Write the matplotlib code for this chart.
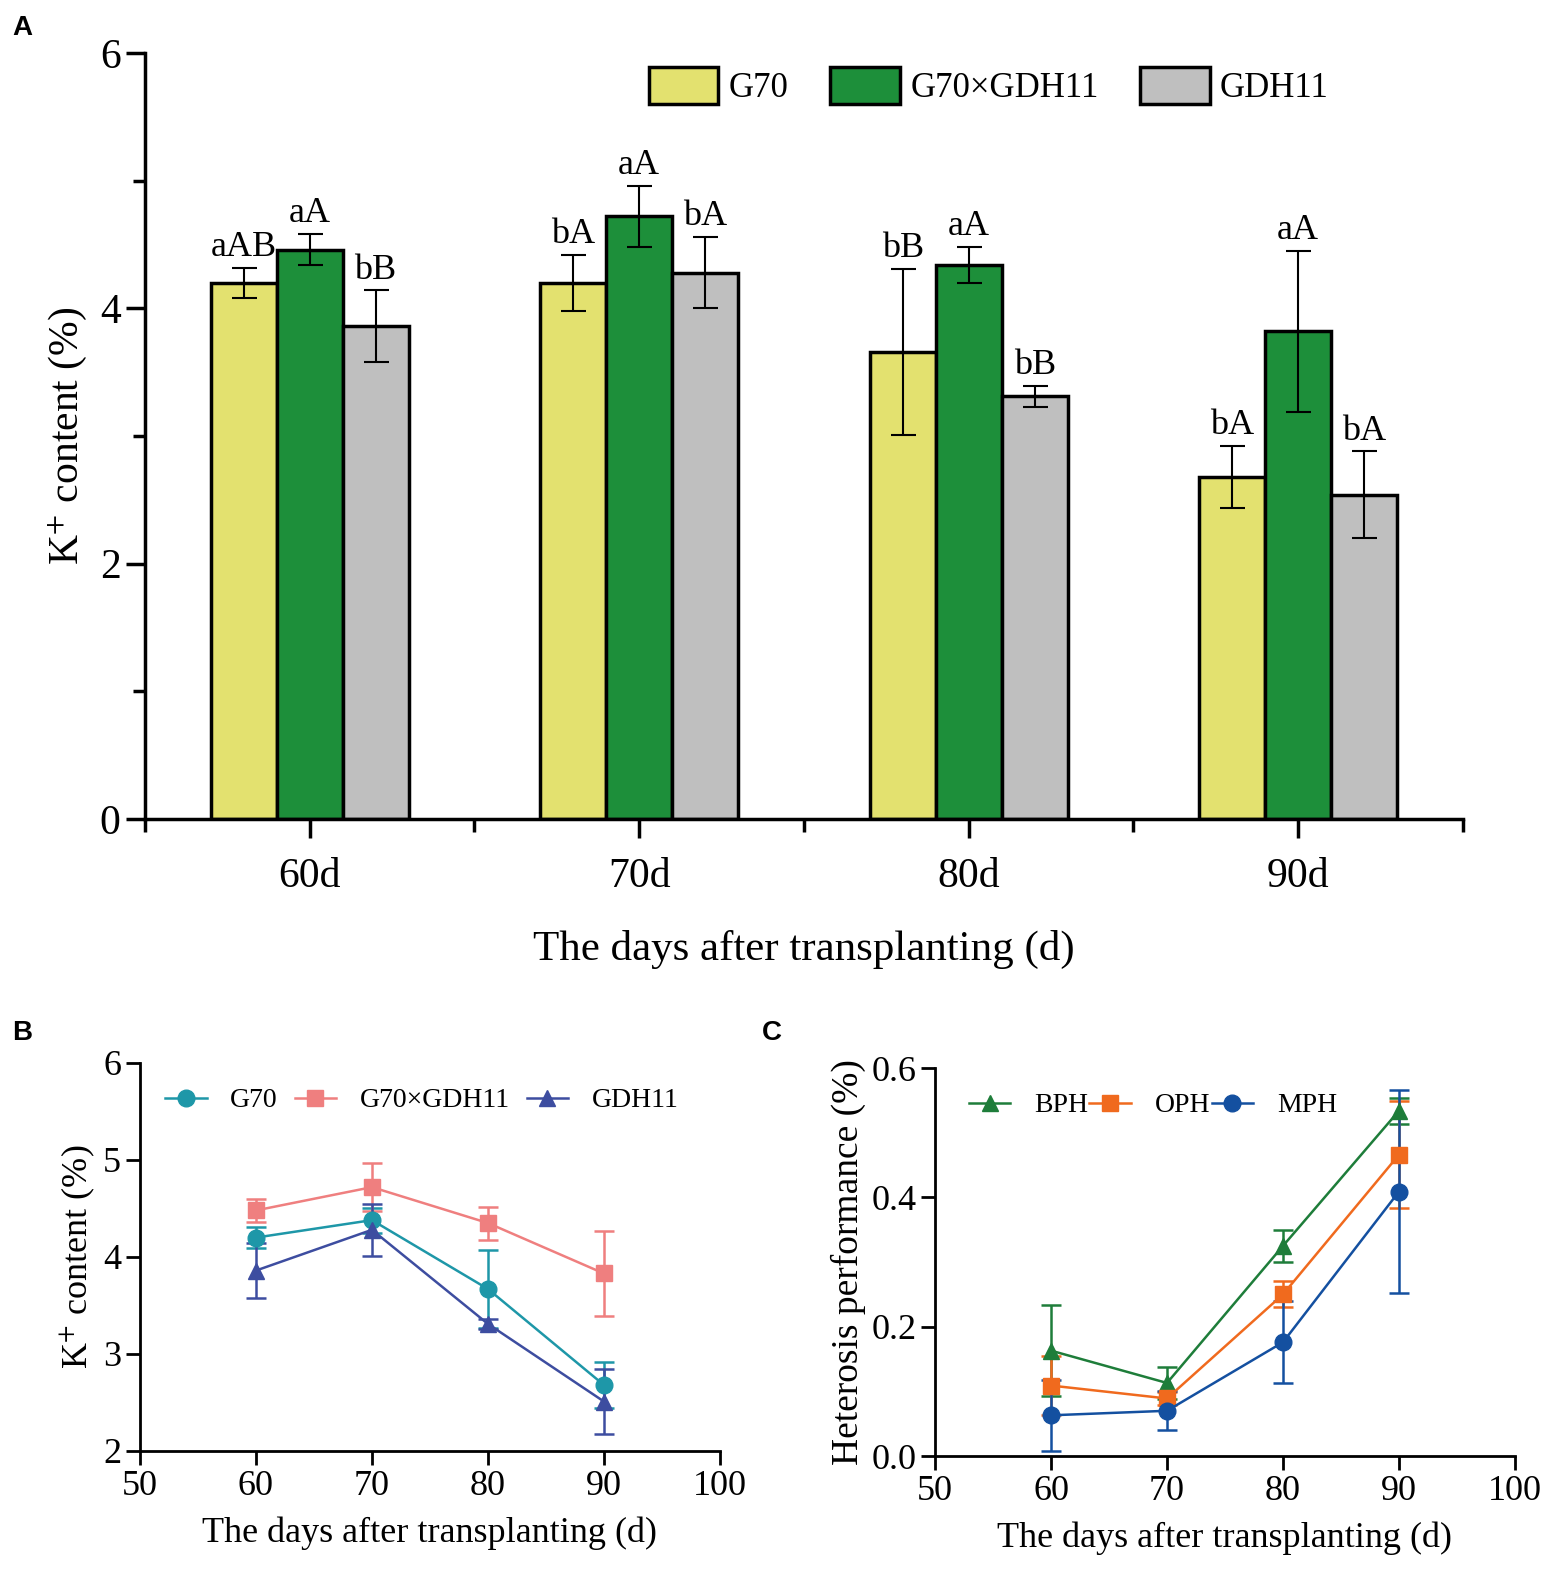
import matplotlib
matplotlib.use('Agg')
import matplotlib.pyplot as plt
from matplotlib.ticker import MultipleLocator, FormatStrFormatter
from matplotlib.lines import Line2D
import numpy as np

plt.rcParams['font.family'] = ['Liberation Serif', 'DejaVu Serif']
plt.rcParams['mathtext.fontset'] = 'stix'

# Panel A data (bars)
days_a = ['60d', '70d', '80d', '90d']
genotypes = ['G70', 'G70×GDH11', 'GDH11']
a_vals = {
    'G70': [4.20, 4.20, 3.66, 2.68],
    'G70×GDH11': [4.46, 4.72, 4.34, 3.82],
    'GDH11': [3.86, 4.28, 3.31, 2.54],
}
a_err = {
    'G70': [0.12, 0.22, 0.65, 0.24],
    'G70×GDH11': [0.12, 0.24, 0.14, 0.63],
    'GDH11': [0.28, 0.28, 0.08, 0.34],
}
a_letters = {
    'G70': ['aAB', 'bA', 'bB', 'bA'],
    'G70×GDH11': ['aA', 'aA', 'aA', 'aA'],
    'GDH11': ['bB', 'bA', 'bB', 'bA'],
}
bar_colors = ['#E3E16F', '#1D8F3A', '#BFBFBF']

# Panel B data (lines)
days = [60, 70, 80, 90]
b_vals = {
    'G70': [4.20, 4.38, 3.67, 2.68],
    'G70×GDH11': [4.48, 4.72, 4.35, 3.83],
    'GDH11': [3.86, 4.28, 3.31, 2.51],
}
b_err = {
    'G70': [0.11, 0.13, 0.40, 0.24],
    'G70×GDH11': [0.12, 0.25, 0.17, 0.44],
    'GDH11': [0.28, 0.27, 0.05, 0.34],
}
b_colors = ['#1E97A8', '#EF7F7F', '#3D4DA0']
b_markers = ['o', 's', '^']

# Panel C data (heterosis)
heterosis = ['BPH', 'OPH', 'MPH']
c_vals = {
    'BPH': [0.163, 0.113, 0.325, 0.534],
    'OPH': [0.109, 0.089, 0.250, 0.466],
    'MPH': [0.063, 0.070, 0.176, 0.409],
}
c_err = {
    'BPH': [0.070, 0.025, 0.025, 0.020],
    'OPH': [0.045, 0.010, 0.020, 0.083],
    'MPH': [0.055, 0.030, 0.063, 0.157],
}
c_colors = ['#1E7D3A', '#F06A1E', '#1450A0']
c_markers = ['^', 's', 'o']

fig = plt.figure(figsize=(15.62, 15.83), dpi=100)


def style_axes(a, lw):
    for s in ['top', 'right']:
        a.spines[s].set_visible(False)
    for s in ['left', 'bottom']:
        a.spines[s].set_linewidth(lw)


# ---------------- Panel A ----------------
ax = fig.add_axes([0.0928, 0.4826, 0.8438, 0.4839])
x = np.arange(len(days_a))
w = 0.2
for i, g in enumerate(genotypes):
    pos = x + (i - 1) * w
    ax.bar(pos, a_vals[g], w, color=bar_colors[i], edgecolor='black',
           linewidth=2.5, label=g, zorder=2)
    ax.errorbar(pos, a_vals[g], yerr=a_err[g], fmt='none', ecolor='black',
                elinewidth=1.5, capsize=9, capthick=1.5, zorder=3)
    for p, v, e, t in zip(pos, a_vals[g], a_err[g], a_letters[g]):
        ax.text(p, v + e + 0.03, t, ha='center', va='bottom', fontsize=26)

ax.set_xlim(-0.5, 3.5)
ax.set_ylim(0, 6)
ax.set_xticks(x)
ax.set_xticklabels(days_a)
ax.set_xticks(np.arange(-0.5, 3.6, 1), minor=True)
ax.yaxis.set_major_locator(MultipleLocator(2))
ax.yaxis.set_minor_locator(MultipleLocator(1))
ax.tick_params(axis='both', which='major', labelsize=30, width=2.5, length=14)
ax.tick_params(axis='both', which='minor', width=2.5, length=9)
ax.tick_params(axis='x', which='major', pad=14)
style_axes(ax, 2.5)
ax.set_xlabel('The days after transplanting (d)', fontsize=31, labelpad=24)
ax.set_ylabel('K$^{+}$ content (%)', fontsize=30, labelpad=8)
ax.legend(ncol=3, loc='upper right', bbox_to_anchor=(0.922, 1.022), frameon=False,
          fontsize=25, handlelength=2.0, handleheight=1.25, columnspacing=1.2,
          handletextpad=0.3)

# ---------------- Panel B ----------------
axb = fig.add_axes([0.0896, 0.0834, 0.3713, 0.2451])
handles = []
for i, g in enumerate(genotypes):
    axb.errorbar(days, b_vals[g], yerr=b_err[g], color=b_colors[i],
                 marker=b_markers[i], markersize=12, linewidth=1.8,
                 elinewidth=1.8, capsize=7, capthick=1.8)
    handles.append(Line2D([], [], color=b_colors[i], marker=b_markers[i],
                          markersize=12, linewidth=1.8, label=g))
axb.set_xlim(50, 100)
axb.set_ylim(2, 6)
axb.xaxis.set_major_locator(MultipleLocator(10))
axb.yaxis.set_major_locator(MultipleLocator(1))
axb.tick_params(axis='both', labelsize=26, width=2, length=10)
style_axes(axb, 2)
axb.set_xlabel('The days after transplanting (d)', fontsize=26, labelpad=10)
axb.set_ylabel('K$^{+}$ content (%)', fontsize=26, labelpad=4)
axb.legend(handles=handles, ncol=3, loc='upper left', bbox_to_anchor=(0.0, 1.0),
           frameon=False, fontsize=20, handlelength=1.5, columnspacing=0.6,
           handletextpad=0.85)

# ---------------- Panel C ----------------
axc = fig.add_axes([0.5986, 0.0802, 0.3713, 0.2451])
handles = []
for i, h in enumerate(heterosis):
    axc.errorbar(days, c_vals[h], yerr=c_err[h], color=c_colors[i],
                 marker=c_markers[i], markersize=12, linewidth=1.8,
                 elinewidth=1.8, capsize=7, capthick=1.8)
    handles.append(Line2D([], [], color=c_colors[i], marker=c_markers[i],
                          markersize=12, linewidth=1.8, label=h))
axc.set_xlim(50, 100)
axc.set_ylim(0, 0.6)
axc.xaxis.set_major_locator(MultipleLocator(10))
axc.yaxis.set_major_locator(MultipleLocator(0.2))
axc.yaxis.set_major_formatter(FormatStrFormatter('%.1f'))
axc.tick_params(axis='both', labelsize=26, width=2, length=10)
style_axes(axc, 2)
axc.set_xlabel('The days after transplanting (d)', fontsize=26, labelpad=10)
axc.set_ylabel('Heterosis performance (%)', fontsize=27, labelpad=4)
axc.legend(handles=handles, ncol=3, loc='upper left', bbox_to_anchor=(0.015, 1.0),
           frameon=False, fontsize=20, handlelength=1.5, columnspacing=0.05,
           handletextpad=0.85)

# panel letters
for lbl, px, py in [('A', 12, 35), ('B', 12, 1040), ('C', 762, 1040)]:
    fig.text(px / 1562, 1 - py / 1583, lbl, fontsize=20, fontweight='bold',
             family='Liberation Sans', ha='left', va='baseline')

fig.savefig('out.png', dpi=100)
